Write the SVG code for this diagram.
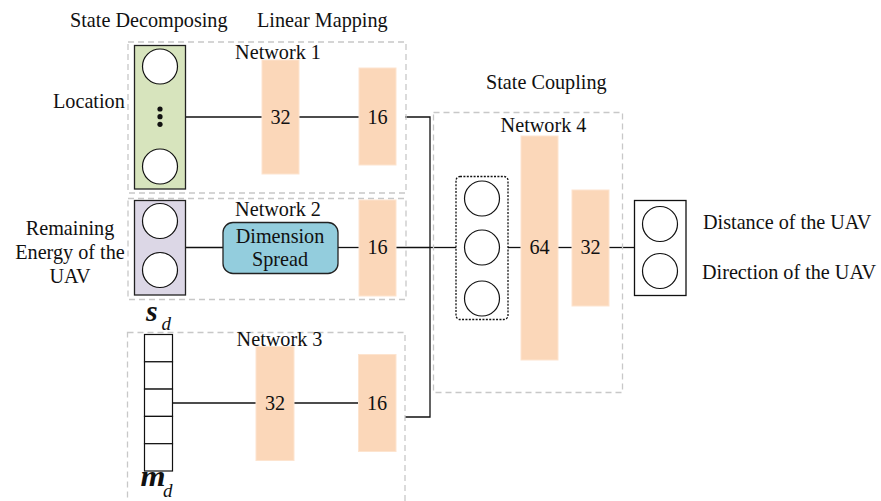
<svg xmlns="http://www.w3.org/2000/svg" width="881" height="501" viewBox="0 0 881 501">
  <style>
    text { font-family: "Liberation Serif", "Times New Roman", serif; font-size: 20.2px; fill: #111; }
    .mid { text-anchor: middle; }
    .net { fill: none; stroke: #c8c8c8; stroke-width: 1.3; stroke-dasharray: 6 4; }
    .layer { fill: #fbd7b9; stroke: #fde4cf; stroke-width: 1; }
    .unit { fill: #fff; stroke: #111; stroke-width: 1.2; }
    .wire { fill: none; stroke: #111; stroke-width: 1.3; }
    text.sym { font-style: italic; font-weight: bold; font-size: 30px; }
    text.sub { font-style: italic; font-size: 19px; }
  </style>

  <!-- stage headings -->
  <text x="70" y="27">State Decomposing</text>
  <text x="257" y="27">Linear Mapping</text>
  <text x="486" y="89">State Coupling</text>

  <!-- connectors -->
  <g id="connectors">
    <line class="wire" x1="186" y1="117" x2="262" y2="117"/>
    <line class="wire" x1="299" y1="117" x2="359" y2="117"/>
    <line class="wire" x1="186" y1="247.5" x2="223" y2="247.5"/>
    <line class="wire" x1="338" y1="247.5" x2="359" y2="247.5"/>
    <line class="wire" x1="172" y1="403" x2="256" y2="403"/>
    <line class="wire" x1="294" y1="403" x2="358" y2="403"/>
    <polyline class="wire" points="405,117 430,117 430,417 405,417"/>
    <line class="wire" x1="396" y1="247.5" x2="430" y2="247.5"/>
    <line class="wire" x1="430" y1="247.5" x2="456" y2="247.5" stroke-width="2"/>
    <line class="wire" x1="508" y1="247.5" x2="521" y2="247.5"/>
    <line class="wire" x1="558" y1="247.5" x2="572" y2="247.5"/>
    <line class="wire" x1="609" y1="247.5" x2="634" y2="247.5"/>
  </g>

  <!-- Network 1: location branch -->
  <g id="network1">
    <rect class="net" x="128" y="42" width="278" height="151"/>
    <text class="mid" x="278" y="59">Network 1</text>
    <text x="53" y="107.5">Location</text>
    <rect x="134.5" y="45.5" width="51" height="143.5" fill="#d7e4bd" stroke="#222" stroke-width="1.3"/>
    <circle class="unit" cx="160" cy="66.5" r="17.5"/>
    <circle class="unit" cx="160" cy="166.5" r="17.5"/>
    <circle cx="160" cy="109" r="2.6" fill="#111"/>
    <circle cx="160" cy="116.7" r="2.6" fill="#111"/>
    <circle cx="160" cy="124.3" r="2.6" fill="#111"/>
    <rect class="layer" x="262" y="60" width="37" height="114"/>
    <text class="mid" x="280.5" y="124">32</text>
    <rect class="layer" x="359" y="68" width="37" height="97"/>
    <text class="mid" x="377.5" y="124">16</text>
  </g>

  <!-- Network 2: remaining energy branch -->
  <g id="network2">
    <rect class="net" x="128" y="198.5" width="278" height="101"/>
    <text class="mid" x="278" y="216">Network 2</text>
    <text class="mid" x="70" y="235">Remaining</text>
    <text class="mid" x="70" y="259">Energy of the</text>
    <text class="mid" x="70" y="283">UAV</text>
    <rect x="134.5" y="200.5" width="51" height="94.5" fill="#dcd7e6" stroke="#222" stroke-width="1.3"/>
    <circle class="unit" cx="160" cy="221" r="17.5"/>
    <circle class="unit" cx="160" cy="270" r="17.5"/>
    <rect x="223" y="222.5" width="115" height="51" rx="10" fill="#93cddd" stroke="#222" stroke-width="1.3"/>
    <text class="mid" x="280" y="242.5">Dimension</text>
    <text class="mid" x="280" y="266">Spread</text>
    <rect class="layer" x="359" y="200" width="37" height="96"/>
    <text class="mid" x="377.5" y="254">16</text>
  </g>

  <!-- Network 3: map branch -->
  <g id="network3">
    <rect class="net" x="127.5" y="332.5" width="277.5" height="180"/>
    <text class="mid" x="279.5" y="346">Network 3</text>
    <text x="146" y="321" class="sym">s</text>
    <text x="161.5" y="329.5" class="sub">d</text>
    <g fill="#fff" stroke="#111" stroke-width="1.2">
      <rect x="144.5" y="334.5" width="28" height="27.3"/>
      <rect x="144.5" y="361.8" width="28" height="27.3"/>
      <rect x="144.5" y="389.1" width="28" height="27.3"/>
      <rect x="144.5" y="416.4" width="28" height="27.3"/>
      <rect x="144.5" y="443.7" width="28" height="27.3"/>
    </g>
    <text x="140.5" y="485.5" class="sym" textLength="25" lengthAdjust="spacingAndGlyphs">m</text>
    <text x="163" y="496.5" class="sub">d</text>
    <rect class="layer" x="256" y="346.5" width="38" height="114"/>
    <text class="mid" x="275" y="409.5">32</text>
    <rect class="layer" x="358.5" y="354.5" width="37.5" height="97"/>
    <text class="mid" x="377" y="409.5">16</text>
  </g>

  <!-- Network 4: coupling -->
  <g id="network4">
    <rect class="net" x="433.5" y="112.5" width="189" height="280"/>
    <text class="mid" x="543.5" y="132">Network 4</text>
    <rect x="456" y="176.5" width="52" height="143" rx="4" fill="#fff" stroke="#111" stroke-width="1.3" stroke-dasharray="2 1.4"/>
    <circle class="unit" cx="482" cy="198.5" r="17.5"/>
    <circle class="unit" cx="482" cy="247.5" r="17.5"/>
    <circle class="unit" cx="482" cy="298.5" r="17.5"/>
    <rect class="layer" x="521" y="136" width="37" height="224"/>
    <text class="mid" x="539.5" y="254">64</text>
    <rect class="layer" x="572" y="190" width="37" height="116"/>
    <text class="mid" x="590.5" y="254">32</text>
  </g>

  <!-- output node -->
  <g id="output">
    <rect x="634.5" y="200.5" width="51.5" height="95" fill="#fff" stroke="#111" stroke-width="1.3"/>
    <circle class="unit" cx="660" cy="224" r="17.5"/>
    <circle class="unit" cx="660" cy="271" r="17.5"/>
    <text x="703" y="228.5">Distance of the UAV</text>
    <text x="702" y="278.5">Direction of the UAV</text>
  </g>
</svg>
